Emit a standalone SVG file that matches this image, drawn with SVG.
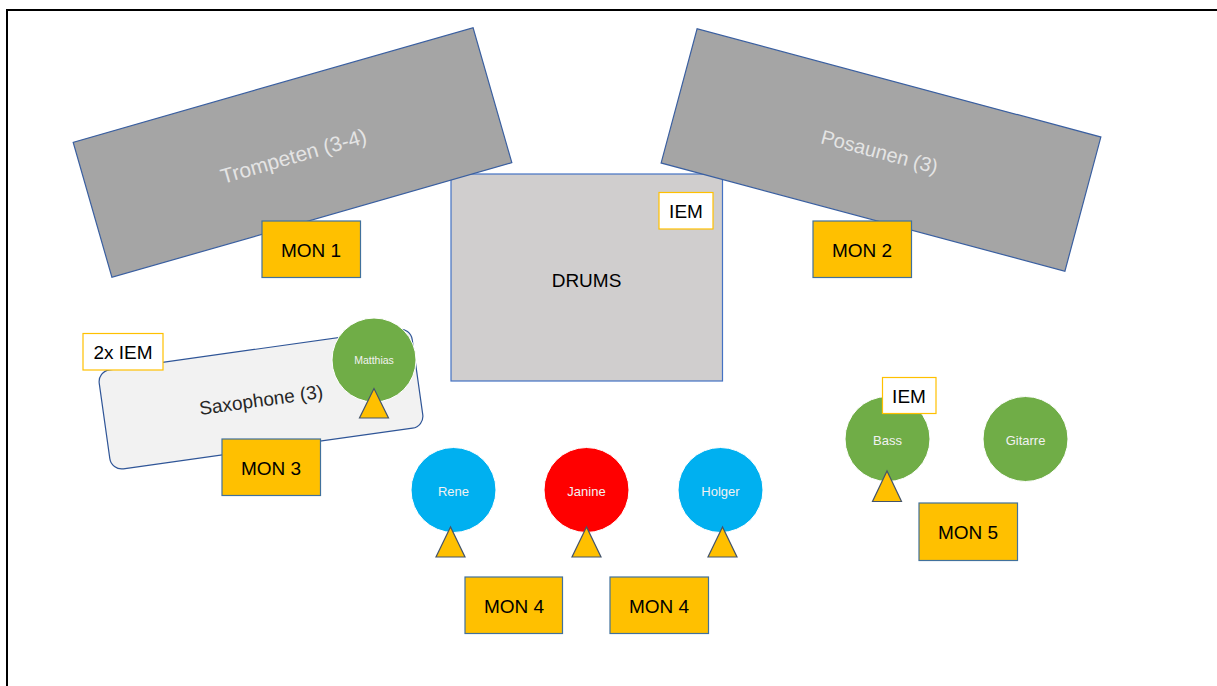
<svg xmlns="http://www.w3.org/2000/svg" width="1217" height="686" viewBox="0 0 1217 686">
  <style>
    text { font-family: "Liberation Sans", Arial, sans-serif; text-anchor: middle; dominant-baseline: central; }
    .riser { fill: #a5a5a5; stroke: #3a5fa0; stroke-width: 1.2; }
    .riser-label { fill: #e4e4e4; font-size: 20px; }
    .mon { fill: #ffc000; stroke: #41719c; stroke-width: 1.2; }
    .mon-label { fill: #000000; font-size: 19px; }
    .iem { fill: #ffffff; stroke: #ffc000; stroke-width: 1.2; }
    .iem-label { fill: #000000; font-size: 19px; }
    .wedge { fill: #ffc000; stroke: #44546a; stroke-width: 1.2; }
    .person { stroke: #ffffff; stroke-width: 1; }
    .person-label { fill: #f2f2f2; font-size: 13px; }
    .green { fill: #70ad47; }
    .blue { fill: #00b0f0; }
    .red { fill: #ff0000; }
  </style>

  <rect x="0" y="0" width="1217" height="686" fill="#ffffff"/>
  <rect id="frame" x="7" y="10" width="1230" height="700" fill="none" stroke="#000000" stroke-width="2"/>

  <g id="drums">
    <rect x="451" y="174" width="271.5" height="207" fill="#d0cece" stroke="#4472c4" stroke-width="1.2"/>
    <text x="586.5" y="280" class="mon-label">DRUMS</text>
  </g>
  <g id="iem-drums">
    <rect x="659" y="192.5" width="54" height="36.5" class="iem"/>
    <text x="686" y="211" class="iem-label">IEM</text>
  </g>

  <g id="trompeten" transform="rotate(-16 292.5 152.5)">
    <rect x="84.5" y="82.25" width="416" height="140.5" class="riser"/>
    <text x="292.5" y="156" class="riser-label" style="font-size:21px">Trompeten (3-4)</text>
  </g>

  <g id="posaunen" transform="rotate(15 881 150)">
    <rect x="672" y="80.5" width="418" height="139" class="riser"/>
    <text x="880" y="152" class="riser-label">Posaunen (3)</text>
  </g>

  <g id="mon1">
    <rect x="262" y="221" width="98.5" height="56.5" class="mon"/>
    <text x="311" y="250" class="mon-label">MON 1</text>
  </g>
  <g id="mon2">
    <rect x="813" y="221" width="98.5" height="56.5" class="mon"/>
    <text x="862" y="250" class="mon-label">MON 2</text>
  </g>

  <g id="saxophone" transform="rotate(-8 261 399)">
    <rect x="103" y="349" width="316" height="100" rx="12" ry="12" fill="#f2f2f2" stroke="#2f5597" stroke-width="1.2"/>
    <text x="261" y="400" fill="#262626" style="font-size:19px">Saxophone (3)</text>
  </g>
  <g id="iem-sax">
    <rect x="83" y="333.5" width="80" height="36.5" class="iem"/>
    <text x="123" y="352" class="iem-label">2x IEM</text>
  </g>
  <g id="matthias">
    <circle cx="374" cy="360" r="42" class="person green"/>
    <text x="374" y="360" class="person-label" style="font-size:10.5px">Matthias</text>
  </g>
  <g id="wedge-matthias">
    <polygon points="374,388.5 359.5,418 388.5,418" class="wedge"/>
  </g>
  <g id="mon3">
    <rect x="222" y="439" width="98.5" height="56.5" class="mon"/>
    <text x="271" y="468" class="mon-label">MON 3</text>
  </g>

  <g id="rene">
    <circle cx="453.5" cy="490" r="42.5" class="person blue"/>
    <text x="453.5" y="491" class="person-label">Rene</text>
  </g>
  <g id="janine">
    <circle cx="586.5" cy="490" r="42.5" class="person red"/>
    <text x="586.5" y="491" class="person-label">Janine</text>
  </g>
  <g id="holger">
    <circle cx="720.5" cy="490" r="42.5" class="person blue"/>
    <text x="720.5" y="491" class="person-label">Holger</text>
  </g>
  <g id="wedge-rene">
    <polygon points="450.5,527 436,557 465,557" class="wedge"/>
  </g>
  <g id="wedge-janine">
    <polygon points="586.5,527 572,557 601,557" class="wedge"/>
  </g>
  <g id="wedge-holger">
    <polygon points="722.5,527 708,557 737,557" class="wedge"/>
  </g>
  <g id="mon4a">
    <rect x="465" y="577" width="97.5" height="56.5" class="mon"/>
    <text x="514" y="606" class="mon-label">MON 4</text>
  </g>
  <g id="mon4b">
    <rect x="610" y="577" width="98.5" height="56.5" class="mon"/>
    <text x="659" y="606" class="mon-label">MON 4</text>
  </g>

  <g id="bass">
    <circle cx="887.5" cy="439" r="42.5" class="person green"/>
    <text x="887.5" y="440" class="person-label">Bass</text>
  </g>
  <g id="iem-bass">
    <rect x="882.5" y="377.5" width="53.5" height="36" class="iem"/>
    <text x="909" y="396" class="iem-label">IEM</text>
  </g>
  <g id="wedge-bass">
    <polygon points="887,471 872.5,501.5 901.5,501.5" class="wedge"/>
  </g>
  <g id="gitarre">
    <circle cx="1025.5" cy="439" r="42.5" class="person green"/>
    <text x="1025.5" y="440" class="person-label">Gitarre</text>
  </g>
  <g id="mon5">
    <rect x="919" y="503" width="98.5" height="57.5" class="mon"/>
    <text x="968" y="532.5" class="mon-label">MON 5</text>
  </g>

  <g id="connectors"/>
</svg>
